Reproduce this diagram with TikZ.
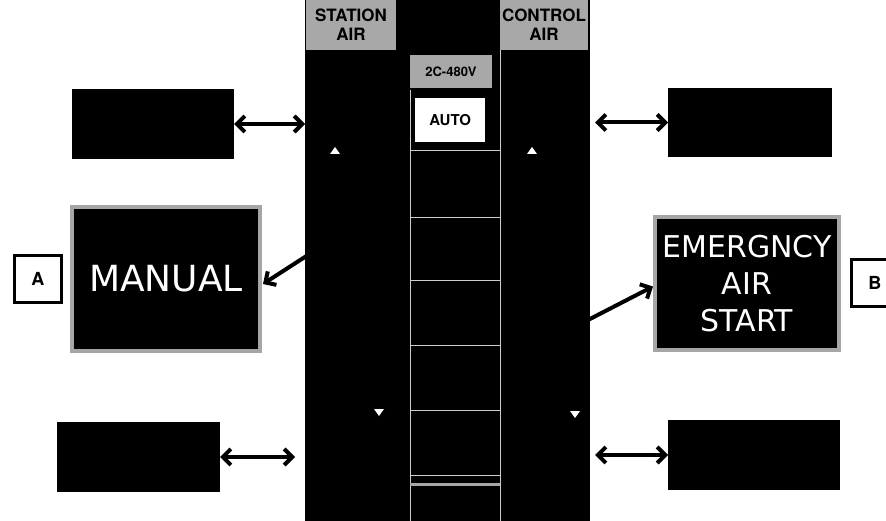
\documentclass[tikz,border=0pt]{standalone}
\usepackage{fontspec}
\usepackage{tikz}
\usetikzlibrary{arrows.meta,positioning,calc}
\newfontfamily\panelfont{TeX Gyre Heros}
\newfontfamily\lampfont{DejaVu Sans}
\definecolor{tagray}{RGB}{168,168,168}

\tikzset{
  blank/.style={fill=black, inner sep=0pt, outer sep=0pt},
  tag/.style={fill=tagray, inner sep=0pt, outer sep=0pt, align=center, font=\panelfont\bfseries\fontsize{17}{19}\selectfont},
  lamp/.style={fill=black, draw=gray!70, line width=3.5pt, inner sep=0pt, outer sep=0pt, text=white, align=center},
  callout/.style={draw=black, line width=2.6pt, fill=white, inner sep=0pt, minimum size=47pt, font=\panelfont\bfseries\fontsize{18}{18}\selectfont},
  link/.style={line width=4pt, {Straight Barb[length=8pt,width=16pt]}-{Straight Barb[length=8pt,width=16pt]}},
  point/.style={line width=4pt, -{Straight Barb[length=8pt,width=16pt]}},
  divider/.style={gray!40, line width=0.8pt},
}

\begin{document}
\begin{tikzpicture}[x=1pt,y=-1pt]
        \useasboundingbox (0,0) rectangle (886,521);
        \clip (0,0) rectangle (886,521);
        % panel with its two tags
        \node[blank, minimum width=285pt, minimum height=521pt, anchor=north west] (panel) at (305,0) {};
        \node[tag, minimum width=90pt, minimum height=50pt, anchor=north west] (stationair) at (306,0) {STATION\\AIR};
        \node[tag, minimum width=88pt, minimum height=50pt, anchor=north west] (controlair) at (500,0) {CONTROL\\AIR};
        \node[tag, minimum width=82pt, minimum height=33pt, anchor=north west, font=\panelfont\bfseries\fontsize{13}{13}\selectfont] (breaker) at (410,55) {2C-480V};
        \node[fill=white, inner sep=0pt, minimum width=70pt, minimum height=44pt, anchor=north west, font=\panelfont\bfseries\fontsize{15}{15}\selectfont] (auto) at (415,98) {AUTO};
        \draw[divider] (410,90) -- (410,521);
        \draw[divider] (500,50) -- (500,521);
        \foreach \y in {150,217,280,345,410,475}
            \draw[divider] (410,\y) -- (500,\y);
        \draw[gray!70, line width=3pt] (410,484) -- (500,484);
        \foreach \x in {335,532}
            \fill[white] (\x-5,154) -- (\x,147) -- (\x+5,154) -- cycle;
        \foreach \x/\y in {379/413,575/415}
            \fill[white] (\x-5,\y-4) -- (\x,\y+3) -- (\x+5,\y-4) -- cycle;
        % left side
        \node[blank, minimum width=162pt, minimum height=70pt, anchor=north west] (stationtop) at (72,89) {};
        \node[lamp, minimum width=188pt, minimum height=144pt, anchor=north west, font=\lampfont\fontsize{36}{40}\selectfont] (manual) at (72,207) {MANUAL};
        \node[blank, minimum width=163pt, minimum height=70pt, anchor=north west] (stationbot) at (57,422) {};
        \node[callout, anchor=north west] (tagA) at (13,254) {A};
        % right side
        \node[blank, minimum width=164pt, minimum height=69pt, anchor=north west] (controltop) at (668,88) {};
        \node[lamp, minimum width=184pt, minimum height=133pt, anchor=north west, font=\lampfont\fontsize{30}{37}\selectfont] (emergair) at (655,217) {EMERGNCY\\AIR\\START};
        \node[blank, minimum width=172pt, minimum height=70pt, anchor=north west] (controlbot) at (668,420) {};
        \node[callout, anchor=north west] (tagB) at (850,258) {B};
        % arrows
        \coordinate (ltop) at (305,124);
        \coordinate (lbot) at (295,457);
        \coordinate (rtop) at (595,122.5);
        \coordinate (rbot) at (595,455);
        \coordinate (mfrom) at (308,255);
        \coordinate (efrom) at (588,320);
        \draw[link] (stationtop.east) -- (ltop);
        \draw[link] (stationbot.east) -- (lbot);
        \draw[link] (rtop) -- (controltop.west);
        \draw[link] (rbot) -- (controlbot.west);
        \draw[point] (mfrom) -- ($(manual.east)+(3,5)$);
        \draw[point] (efrom) -- ($(emergair.west)+(-2,3)$);
    \end{tikzpicture}
\end{document}
